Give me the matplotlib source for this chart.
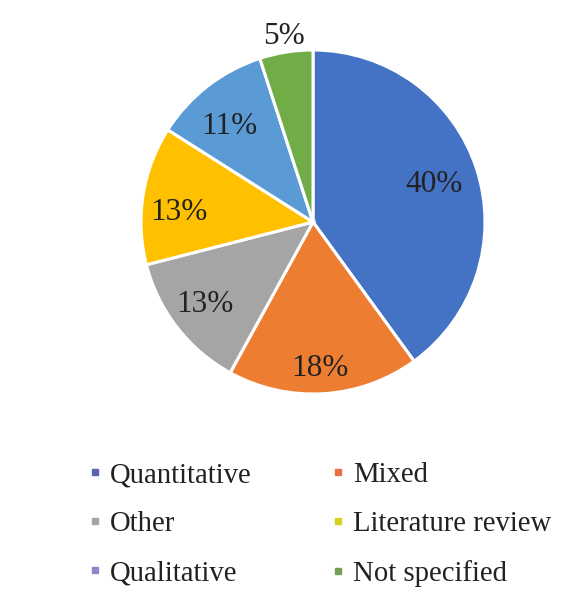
import matplotlib
matplotlib.use("Agg")
import matplotlib.pyplot as plt
from matplotlib.lines import Line2D

categories = ["Quantitative", "Mixed", "Other", "Literature review", "Qualitative", "Not specified"]
shares = [40, 18, 13, 13, 11, 5]
pct_labels = ["40%", "18%", "13%", "13%", "11%", "5%"]
wedge_colors = ["#4472C4", "#ED7D31", "#A5A5A5", "#FFC000", "#5B9BD5", "#70AD47"]
legend_colors = ["#5A62B4", "#E8704A", "#A5A5A5", "#D6D020", "#8C88C8", "#76A05A"]

plt.rcParams['font.family'] = ['Liberation Serif', 'DejaVu Serif']

fig = plt.figure(figsize=(5.61, 5.95), dpi=100)
fig.patch.set_facecolor("white")
cx, cy, r = 313 / 561, 1 - 222 / 595, 172
ax = fig.add_axes([cx - r / 561, cy - r / 595, 2 * r / 561, 2 * r / 595])
wedges, _ = ax.pie(shares, colors=wedge_colors, startangle=90, counterclock=False,
                   radius=1.0, wedgeprops=dict(edgecolor="white", linewidth=2.2))
ax.set_xlim(-1, 1)
ax.set_ylim(-1, 1)
ax.set_aspect("equal")
ax.axis("off")

# label placement (pixel offsets from pie centre, radius = 172 px)
label_offsets = [(121, 37), (7, -147), (-108, -83), (-134, 9), (-84, 95.5), (-29, 185)]
for lab, (dx, dy) in zip(pct_labels, label_offsets):
    ax.text(dx / r, dy / r, lab, ha="center", va="center",
            fontsize=22.5, color="#222222", clip_on=False)

order = [0, 2, 4, 1, 3, 5]
handles = [Line2D([0], [0], marker="s", linestyle="none", markersize=4.5,
                  markerfacecolor=legend_colors[i], markeredgecolor=legend_colors[i]) for i in order]
labels = [categories[i] for i in order]
fig.legend(handles, labels, ncol=2, loc="upper left", bbox_to_anchor=(89 / 561, 1 - 462 / 595),
           frameon=False, fontsize=20.7, handlelength=0.4, handletextpad=0.33, borderpad=0,
           columnspacing=2.8, labelspacing=0.8, borderaxespad=0, labelcolor="#222222")

fig.savefig("out.png", dpi=100, facecolor="white")
